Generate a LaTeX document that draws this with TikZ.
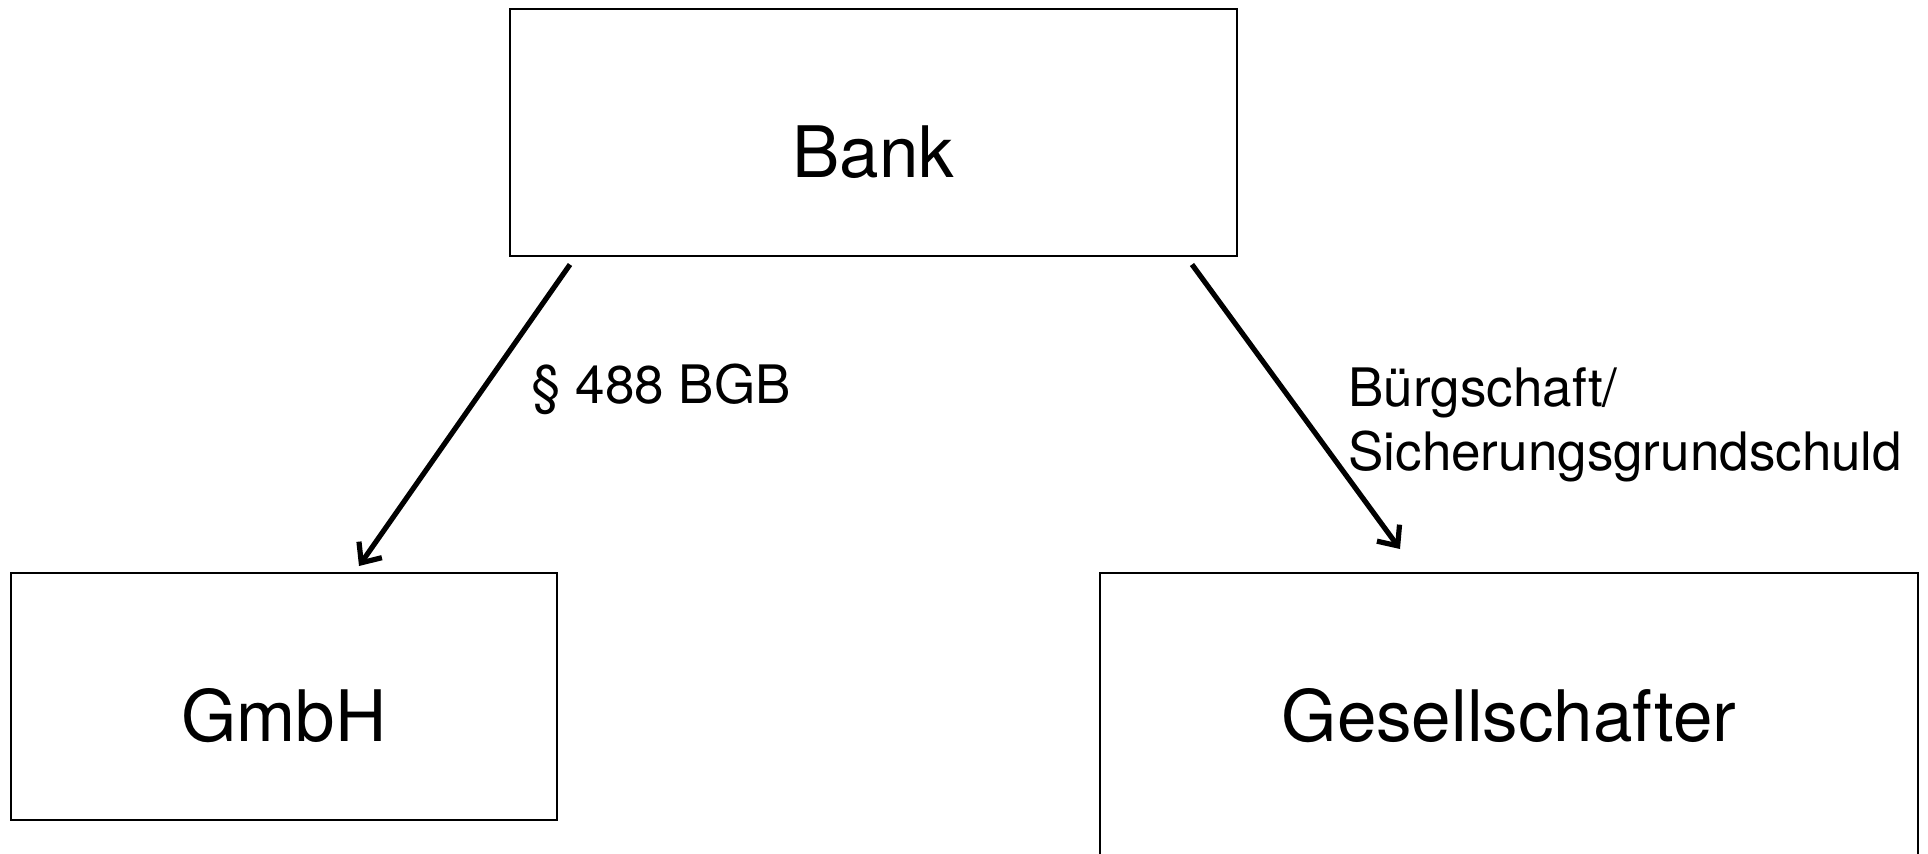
\documentclass[tikz,border=0pt]{standalone}
\usepackage{fontspec}
\setmainfont{TeX Gyre Heros}
\usetikzlibrary{arrows.meta}

\tikzset{
        box/.style={draw, rectangle, line width=1pt, inner sep=0pt, minimum height=123.5pt,
                font=\fontsize{35.5}{42}\selectfont, text height=45pt, text depth=0pt},
        arrow/.style={line width=2.6pt, -{Straight Barb[length=8pt, width=14pt]}},
        lbl/.style={inner sep=0pt, font=\fontsize{26.5}{32}\selectfont, align=left}
}

\begin{document}
\begin{tikzpicture}[x=0.5pt, y=-0.5pt]
        \useasboundingbox (0,0) rectangle (1928,853);

        \node[box, minimum width=363.5pt](bank) at (873.5,132){Bank};
        \node[box, minimum width=273pt](gmbh) at (284,696.5){GmbH};
        \node[box, minimum width=409pt, minimum height=170pt, text height=26pt, text depth=28pt](ges) at (1509,743){Gesellschafter};

        \node[lbl, anchor=base west](darlehen) at (531,403){\S\ 488 BGB};
        \node[lbl, anchor=north west](sicherung) at (1348,367){Bürgschaft/\\Sicherungsgrundschuld};

        \draw([shift={(61,8)}]bank.south west) edge[arrow] ([shift={(349,-6)}]gmbh.north west);
        \draw([shift={(-46,8)}]bank.south east) edge[arrow] ([shift={(301,-23)}]ges.north west);

\end{tikzpicture}
\end{document}
